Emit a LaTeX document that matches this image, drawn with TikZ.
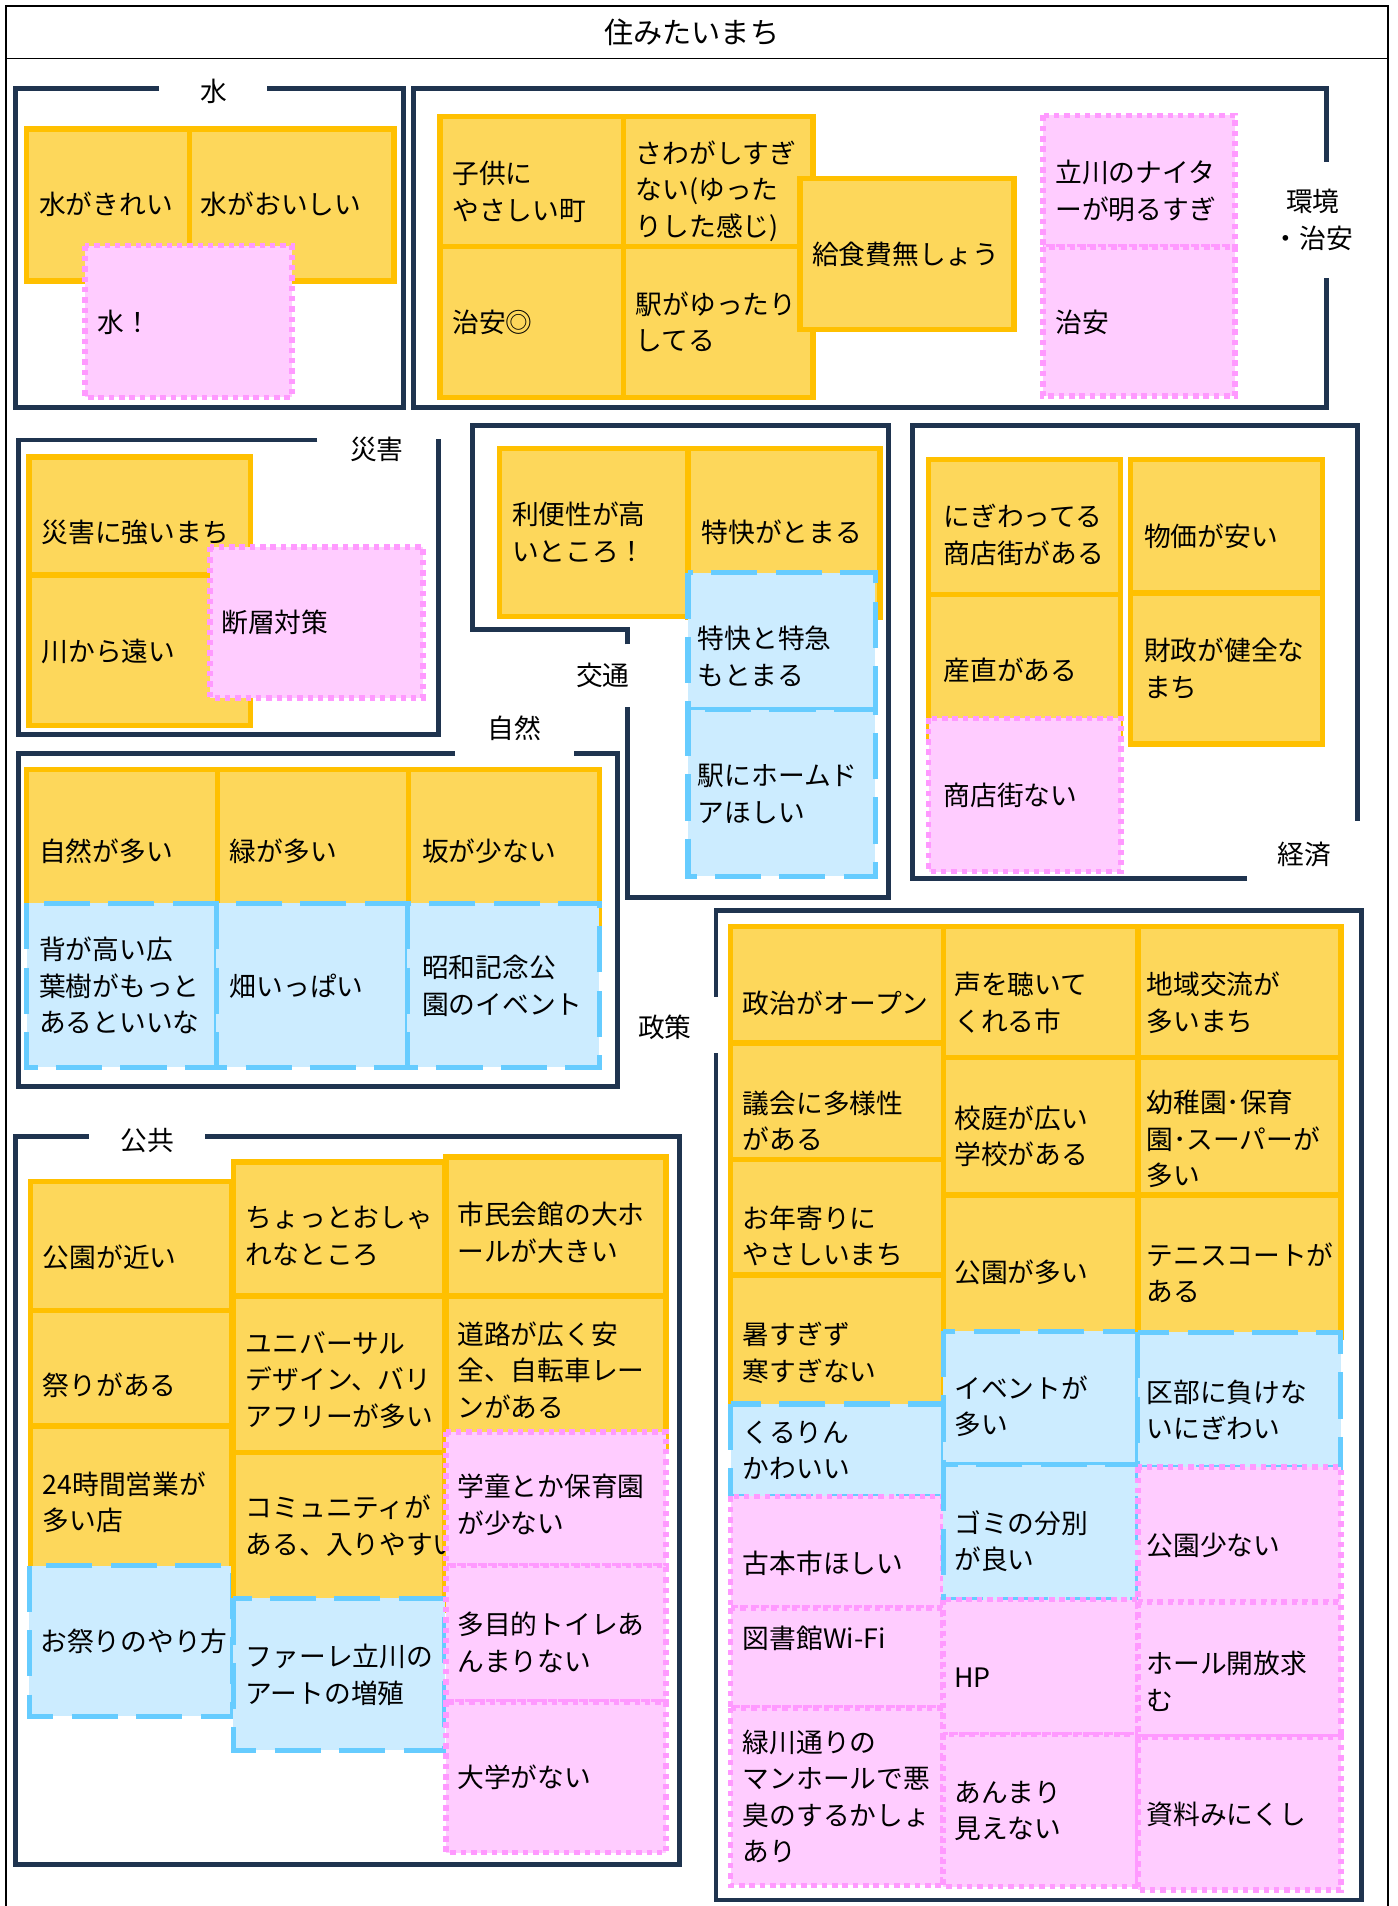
\documentclass[tikz,border=0pt]{standalone}
\usepackage{fontspec}
\newfontfamily\jp{Noto Sans CJK JP}
\definecolor{cyel}{HTML}{FFC000}
\definecolor{fyel}{HTML}{FDD75B}
\definecolor{cpnk}{HTML}{FF99FF}
\definecolor{fpnk}{HTML}{FFCCFF}
\definecolor{cblu}{HTML}{66CCFF}
\definecolor{fblu}{HTML}{CCECFF}
\definecolor{cnavy}{HTML}{1F344F}
\tikzset{
  yel/.style={draw=cyel, fill=fyel, line width=4.5pt},
  pnk/.style={draw=cpnk, fill=fpnk, line width=4.6pt, dash pattern=on 4.5pt off 4pt},
  blu/.style={draw=cblu, fill=fblu, line width=4.2pt, dash pattern=on 38pt off 15pt},
  grp/.style={draw=cnavy, line width=4pt},
  txt/.style={anchor=west, align=left, inner sep=0pt, font=\jp\fontsize{22}{30}\selectfont},
  lab/.style={inner sep=0pt, font=\jp\fontsize{22}{30}\selectfont},
}
\begin{document}
\begin{tikzpicture}[x=1pt,y=-1pt]
\useasboundingbox (0,0) rectangle (1150,1568);
\fill[white] (0,0) rectangle (1150,1568);
% outer frame and title
\draw[line width=1.3pt] (5,5) rectangle (1142,1590);
\draw[line width=1.3pt] (5,48) -- (1142,48);
\node[lab, font=\jp\fontsize{24}{30}\selectfont] (title) at (569,27) {住みたいまち};

% ===== group frames =====
\draw[grp] (131,73) -- (13,73) -- (13,335) -- (332,335) -- (332,73) -- (220,73);
\draw[grp] (1091,133) -- (1091,73) -- (340,73) -- (340,335) -- (1091,335) -- (1091,229);
\draw[grp] (261,362) -- (15,362) -- (15,604) -- (361,604) -- (361,361);
\draw[grp] (516,530) -- (516,518) -- (389,518) -- (389,350) -- (731,350) -- (731,738) -- (516,738) -- (516,582);
\draw[grp] (1026,723) -- (751,723) -- (751,350) -- (1117,350) -- (1117,675);
\draw[grp] (374,620) -- (15,620) -- (15,894) -- (508,894) -- (508,620) -- (472,620);
\draw[grp] (589,820) -- (589,749) -- (1120,749) -- (1120,1563) -- (589,1563) -- (589,866);
\draw[grp] (73,935) -- (13,935) -- (13,1534) -- (559,1534) -- (559,935) -- (169,935);

% group labels
\node[lab] (lw) at (176,75) {水};
\node[lab, align=center] (le) at (1080,181) {環境\\・治安};
\node[lab] (ld) at (310,370) {災害};
\node[lab] (lt) at (496,556) {交通};
\node[lab] (ln) at (423,599) {自然};
\node[lab] (lk) at (1073,703) {経済};
\node[lab] (ls) at (547,845) {政策};
\node[lab] (lp) at (121,938) {公共};

% ===== 水 =====
\draw[yel] (22,106) rectangle (156,231); \node[txt] (w1) at (32,168) {水がきれい};
\draw[yel] (156,106) rectangle (324,231); \node[txt] (w2) at (165,168) {水がおいしい};
\draw[pnk] (70,202) rectangle (240,327); \node[txt] (w3) at (80,265) {水！};

% ===== 環境・治安 =====
\draw[yel] (362,96) rectangle (513,203); \node[txt] (e1) at (372,158) {子供に\\やさしい町};
\draw[yel] (362,203) rectangle (513,327); \node[txt] (e2) at (372,265) {治安◎};
\draw[yel] (513,96) rectangle (669,203); \node[txt] (e3) at (523,157) {さわがしすぎ\\ない(ゆった\\りした感じ)};
\draw[yel] (513,203) rectangle (669,327); \node[txt] (e4) at (523,265) {駅がゆったり\\してる};
\draw[yel] (658,147) rectangle (834,271); \node[txt] (e5) at (668,209) {給食費無しょう};
\draw[pnk] (858,95) rectangle (1016,203); \node[txt] (e6) at (868,157) {立川のナイタ\\ーが明るすぎ};
\draw[pnk] (858,203) rectangle (1016,326); \node[txt] (e7) at (868,265) {治安};

% ===== 災害 =====
\draw[yel] (24,376) rectangle (206,473); \node[txt] (d1) at (34,438) {災害に強いまち};
\draw[yel] (24,473) rectangle (206,597); \node[txt] (d2) at (34,536) {川から遠い};
\draw[pnk] (173,450) rectangle (348,574); \node[txt] (d3) at (182,512) {断層対策};

% ===== 交通 =====
\draw[yel] (411,369) rectangle (566,507); \node[txt] (t1) at (421,438) {利便性が高\\いところ！};
\draw[yel] (566,369) rectangle (724,508); \node[txt] (t2) at (577,438) {特快がとまる};
\draw[blu] (566,471) rectangle (720,584); \node[txt] (t3) at (574,540) {特快と特急\\もとまる};
\draw[blu] (566,584) rectangle (720,721); \node[txt] (t4) at (574,653) {駅にホームド\\アほしい};

% ===== 経済 =====
\draw[yel] (764,378) rectangle (922,489); \node[txt] (k1) at (776,440) {にぎわってる\\商店街がある};
\draw[yel] (764,489) rectangle (922,606); \node[txt] (k2) at (776,551) {産直がある};
\draw[pnk] (764,591) rectangle (922,717); \node[txt] (k3) at (776,654) {商店街ない};
\draw[yel] (930,378) rectangle (1088,488); \node[txt] (k4) at (941,441) {物価が安い};
\draw[yel] (930,488) rectangle (1088,612); \node[txt] (k5) at (941,550) {財政が健全な\\まち};

% ===== 自然 =====
\draw[yel] (22,633) rectangle (179,767); \node[txt] (n1) at (32,700) {自然が多い};
\draw[yel] (179,633) rectangle (336,767); \node[txt] (n2) at (189,700) {緑が多い};
\draw[yel] (336,633) rectangle (493,767); \node[txt] (n3) at (347,700) {坂が少ない};
\draw[blu] (22,743) rectangle (178,878); \node[txt] (n4) at (32,811) {背が高い広\\葉樹がもっと\\あるといいな};
\draw[blu] (178,743) rectangle (335,878); \node[txt] (n5) at (189,811) {畑いっぱい};
\draw[blu] (335,743) rectangle (493,878); \node[txt] (n6) at (347,811) {昭和記念公\\園のイベント};

% ===== 公共 =====
\draw[yel] (25,972) rectangle (191,1078); \node[txt] (p1) at (35,1034) {公園が近い};
\draw[yel] (25,1078) rectangle (191,1173); \node[txt] (p2) at (35,1140) {祭りがある};
\draw[yel] (25,1173) rectangle (191,1300); \node[txt] (p3) at (35,1236) {24時間営業が\\多い店};
\draw[blu] (24,1288) rectangle (191,1412); \node[txt] (p4) at (33,1350) {お祭りのやり方};
\draw[yel] (192,956) rectangle (366,1066); \node[txt] (p5) at (202,1017) {ちょっとおしゃ\\れなところ};
\draw[yel] (192,1066) rectangle (366,1195); \node[txt] (p6) at (202,1135) {ユニバーサル\\デザイン、バリ\\アフリーが多い};
\draw[yel] (192,1195) rectangle (366,1325); \node[txt] (p7) at (202,1255) {コミュニティが\\ある、入りやすい};
\draw[blu] (192,1315) rectangle (366,1440); \node[txt] (p8) at (202,1378) {ファーレ立川の\\アートの増殖};
\draw[yel] (367,952) rectangle (548,1066); \node[txt] (p9) at (376,1014) {市民会館の大ホ\\ールが大きい};
\draw[yel] (367,1066) rectangle (548,1190); \node[txt] (p10) at (376,1127) {道路が広く安\\全、自転車レー\\ンがある};
\draw[pnk] (367,1178) rectangle (548,1288); \node[txt] (p11) at (376,1238) {学童とか保育園\\が少ない};
\draw[pnk] (367,1288) rectangle (548,1400); \node[txt] (p12) at (376,1351) {多目的トイレあ\\んまりない};
\draw[pnk] (367,1400) rectangle (548,1524); \node[txt] (p13) at (376,1462) {大学がない};

% ===== 政策 =====
\draw[yel] (601,762) rectangle (776,858); \node[txt] (s1) at (611,825) {政治がオープン};
\draw[yel] (601,858) rectangle (776,954); \node[txt] (s2) at (611,922) {議会に多様性\\がある};
\draw[yel] (601,954) rectangle (776,1049); \node[txt] (s3) at (611,1017) {お年寄りに\\やさしいまち};
\draw[yel] (601,1049) rectangle (776,1162); \node[txt] (s4) at (611,1113) {暑すぎず\\寒すぎない};
\draw[blu] (601,1155) rectangle (776,1231); \node[txt] (s5) at (611,1193) {くるりん\\かわいい};
\draw[pnk] (601,1231) rectangle (776,1323); \node[txt] (s6) at (611,1286) {古本市ほしい};
\draw[pnk] (601,1323) rectangle (776,1405); \node[txt] (s7) at (611,1348) {図書館Wi-Fi};
\draw[pnk] (601,1405) rectangle (776,1551); \node[txt] (s8) at (611,1478) {緑川通りの\\マンホールで悪\\臭のするかしょ\\あり};
\draw[yel] (776,762) rectangle (936,870); \node[txt] (s9) at (785,825) {声を聴いて\\くれる市};
\draw[yel] (776,870) rectangle (936,983); \node[txt] (s10) at (785,935) {校庭が広い\\学校がある};
\draw[yel] (776,983) rectangle (936,1100); \node[txt] (s11) at (785,1047) {公園が多い};
\draw[blu] (776,1095) rectangle (936,1205); \node[txt] (s12) at (785,1157) {イベントが\\多い};
\draw[blu] (776,1205) rectangle (936,1316); \node[txt] (s13) at (785,1268) {ゴミの分別\\が良い};
\draw[pnk] (776,1316) rectangle (936,1427); \node[txt] (s14) at (785,1380) {HP};
\draw[pnk] (776,1427) rectangle (936,1552); \node[txt] (s15) at (785,1490) {あんまり\\見えない};
\draw[yel] (936,762) rectangle (1103,870); \node[txt] (s16) at (943,825) {地域交流が\\多いまち};
\draw[yel] (936,870) rectangle (1103,983); \node[txt] (s17) at (943,937) {幼稚園･保育\\園･スーパーが\\多い};
\draw[yel] (936,983) rectangle (1103,1100); \node[txt] (s18) at (943,1047) {テニスコートが\\ある};
\draw[blu] (936,1096) rectangle (1103,1207); \node[txt] (s19) at (943,1160) {区部に負けな\\いにぎわい};
\draw[pnk] (936,1207) rectangle (1103,1318); \node[txt] (s20) at (943,1271) {公園少ない};
\draw[pnk] (936,1318) rectangle (1103,1429); \node[txt] (s21) at (943,1383) {ホール開放求\\む};
\draw[pnk] (936,1429) rectangle (1103,1555); \node[txt] (s22) at (943,1493) {資料みにくし};
\end{tikzpicture}
\end{document}
